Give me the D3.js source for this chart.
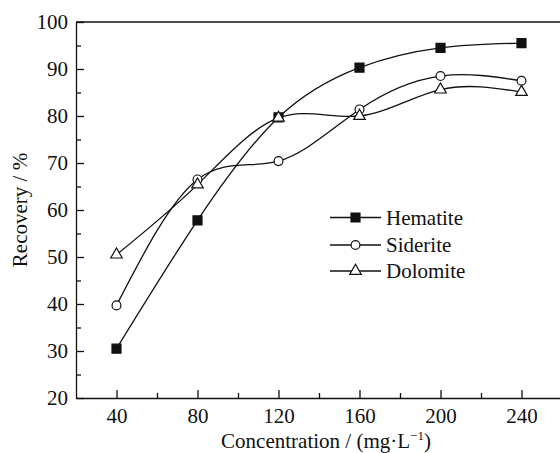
<!DOCTYPE html>
<html>
<head>
<meta charset="utf-8">
<script src="https://cdn.jsdelivr.net/npm/d3@7"></script>
<style>
  html, body { margin: 0; padding: 0; background: #fff; }
  svg { display: block; }
</style>
</head>
<body>
<svg id="chart" width="560" height="453"></svg>
<script>
// Flotation recovery versus collector concentration
const concentrations = [40, 80, 120, 160, 200, 240];
const hematite = [30.5, 57.8, 79.7, 90.3, 94.5, 95.5];
const siderite = [39.7, 66.5, 70.4, 81.4, 88.5, 87.5];
const dolomite = [50.5, 65.4, 79.6, 80.0, 85.6, 85.1];

const seriesNames = ["Hematite", "Siderite", "Dolomite"];
const seriesValues = [hematite, siderite, dolomite];
const seriesSymbols = ["square", "circle", "triangle"];

const xMajorTicks = [40, 80, 120, 160, 200, 240];
const xMinorTicks = [60, 100, 140, 180, 220];
const yMajorTicks = [20, 30, 40, 50, 60, 70, 80, 90, 100];
const yMinorTicks = [25, 35, 45, 55, 65, 75, 85, 95];

const svg = d3.select("#chart");
const plotLeft = 76, plotTop = 22, plotBottom = 398, plotRight = 562;

const x = d3.scaleLinear().domain([20, 260]).range([plotLeft, plotRight]);
const y = d3.scaleLinear().domain([20, 100]).range([plotBottom, plotTop]);

const ink = "#111";
const fontSize = 21;
const serif = "'Liberation Serif'";

// Frame: top edge of the plot box
svg.append("line")
  .attr("x1", plotLeft).attr("x2", plotRight)
  .attr("y1", plotTop).attr("y2", plotTop)
  .attr("stroke", ink).attr("stroke-width", 1.3);

// Bottom axis with inward ticks
svg.append("g")
  .attr("transform", `translate(0,${plotBottom})`)
  .call(d3.axisBottom(x).tickValues(xMajorTicks).tickSizeInner(-8).tickSizeOuter(0).tickPadding(10).tickFormat(d3.format("d")));
svg.append("g")
  .attr("transform", `translate(0,${plotBottom})`)
  .call(d3.axisBottom(x).tickValues(xMinorTicks).tickSizeInner(-5).tickSizeOuter(0).tickFormat(""))
  .call(g => g.select(".domain").remove());

// Left axis with inward ticks
svg.append("g")
  .attr("transform", `translate(${plotLeft},0)`)
  .call(d3.axisLeft(y).tickValues(yMajorTicks).tickSizeInner(-8).tickSizeOuter(0).tickPadding(8).tickFormat(d3.format("d")));
svg.append("g")
  .attr("transform", `translate(${plotLeft},0)`)
  .call(d3.axisLeft(y).tickValues(yMinorTicks).tickSizeInner(-5).tickSizeOuter(0).tickFormat(""))
  .call(g => g.select(".domain").remove());

svg.selectAll("g").attr("font-family", null);
svg.selectAll(".domain, .tick line").attr("stroke", ink).attr("stroke-width", 1.3);
svg.selectAll(".tick text")
  .style("font-family", serif)
  .attr("font-size", fontSize)
  .attr("fill", ink);

// Axis titles
svg.append("text")
  .attr("transform", `translate(27,${(plotTop + plotBottom) / 2}) rotate(-90)`)
  .attr("text-anchor", "middle")
  .style("font-family", serif)
  .attr("font-size", fontSize)
  .attr("fill", ink)
  .text("Recovery / %");

const xTitle = svg.append("text")
  .attr("x", 326).attr("y", 448)
  .attr("text-anchor", "middle")
  .style("font-family", serif)
  .attr("font-size", fontSize)
  .attr("fill", ink);
xTitle.append("tspan").text("Concentration / (mg·L");
xTitle.append("tspan").attr("font-size", 13).attr("dy", -8).text("−1");
xTitle.append("tspan").attr("dy", 8).text(")");

// Marker shapes
function markerPath(kind) {
  if (kind === "square") return d3.symbol(d3.symbolSquare, 81)();
  if (kind === "circle") return d3.symbol(d3.symbolCircle, 62)();
  return d3.symbol(d3.symbolTriangle, 58)();
}
function markerFill(kind) { return kind === "square" ? ink : "#fff"; }

const line = d3.line()
  .x((d, i) => x(concentrations[i]))
  .y(d => y(d))
  .curve(d3.curveNatural);

// Series curves
seriesValues.forEach(vals => {
  svg.append("path")
    .datum(vals)
    .attr("d", line)
    .attr("fill", "none")
    .attr("stroke", ink)
    .attr("stroke-width", 1.3);
});

// Series markers
seriesValues.forEach((vals, s) => {
  svg.append("g").selectAll("path")
    .data(vals)
    .join("path")
    .attr("transform", (d, i) => `translate(${x(concentrations[i])},${y(d)})`)
    .attr("d", markerPath(seriesSymbols[s]))
    .attr("fill", markerFill(seriesSymbols[s]))
    .attr("stroke", ink)
    .attr("stroke-width", 1.2);
});

// Legend
const legendRows = [217.5, 245, 271];
seriesNames.forEach((name, s) => {
  const g = svg.append("g").attr("transform", `translate(0,${legendRows[s]})`);
  g.append("line").attr("x1", 330).attr("x2", 381).attr("y1", 0).attr("y2", 0)
    .attr("stroke", ink).attr("stroke-width", 1.3);
  g.append("path").attr("transform", "translate(355.5,0)")
    .attr("d", markerPath(seriesSymbols[s]))
    .attr("fill", markerFill(seriesSymbols[s]))
    .attr("stroke", ink).attr("stroke-width", 1.2);
  g.append("text").attr("x", 386).attr("y", 0).attr("dy", "0.35em")
    .style("font-family", serif)
    .attr("font-size", fontSize).attr("fill", ink).text(name);
});
</script>
</body>
</html>
